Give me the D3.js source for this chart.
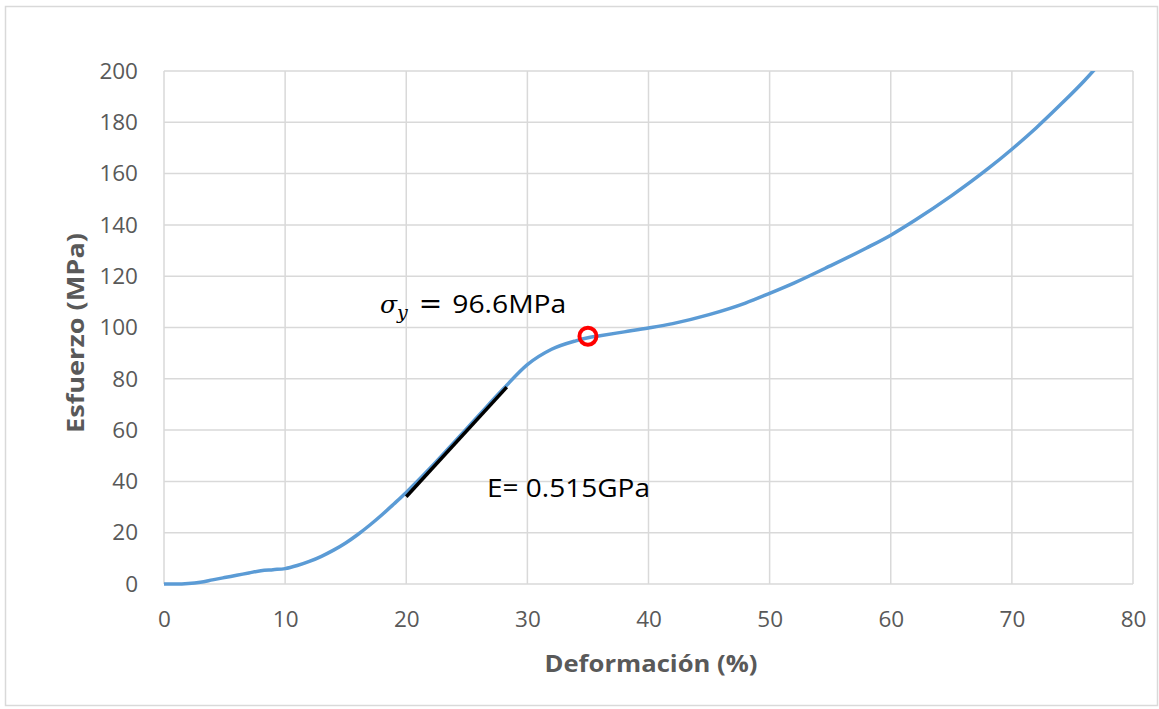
<!DOCTYPE html>
<html>
<head>
<meta charset="utf-8">
<script src="https://cdn.jsdelivr.net/npm/d3@7"></script>
<style>
  html, body { margin: 0; padding: 0; background: #fff; }
  svg { display: block; }
</style>
</head>
<body>
<svg id="chart" width="1159" height="709"></svg>
<script>
// Stress–strain curve (strain in %, stress in MPa)
const strain = [0, 1, 2, 3, 4, 5, 6, 7, 8, 9, 10, 11, 12, 13, 14, 15, 16, 17, 18, 19, 20,
  22, 24, 26, 28, 30, 32, 34, 35, 36, 38, 40, 42, 45, 48, 50, 52, 55, 58, 60, 62, 65, 68,
  70, 72, 74, 76, 77];
const stress = [0, 0, 0.2, 0.7, 1.6, 2.5, 3.4, 4.3, 5.2, 5.6, 6, 7.2, 8.8, 10.8, 13.2, 16,
  19.3, 23, 27, 31.3, 35.7, 45.3, 55.5, 65.8, 76, 85.5, 91.5, 94.8, 96, 96.8, 98.3, 99.8,
  101.5, 105, 109.5, 113.3, 117.3, 124, 131, 136, 141.8, 151.3, 161.8, 169.5, 177.8, 186.8,
  196.3, 201.5];

// Elastic segment used for the modulus
const modulusGPa = 0.515;            // E in GPa -> 5.15 MPa per % strain
const elasticStart = [20, 34];       // [strain %, stress MPa]
const elasticEndStrain = 28.3;

// Yield point
const yieldStrain = 35;
const yieldStress = 96.6;

const xTicks = [0, 10, 20, 30, 40, 50, 60, 70, 80];
const yTicks = [0, 20, 40, 60, 80, 100, 120, 140, 160, 180, 200];

const xTitle = "Deformación (%)";
const yTitle = "Esfuerzo (MPa)";
const modulusLabel = "E= 0.515GPa";

const svg = d3.select("#chart");
const W = 1159, H = 709;
const m = { left: 164, top: 71, right: W - 1133, bottom: H - 584 };
const iw = W - m.left - m.right, ih = H - m.top - m.bottom;

// Outer chart frame
svg.append("rect")
  .attr("x", 5.5).attr("y", 6.5).attr("width", 1152).attr("height", 699)
  .attr("fill", "#fff").attr("stroke", "#d9d9d9").attr("stroke-width", 1.5);

const x = d3.scaleLinear().domain([0, 80]).range([m.left, m.left + iw]);
const y = d3.scaleLinear().domain([0, 200]).range([m.top + ih, m.top]);

const grid = svg.append("g");
grid.selectAll("line.v").data(xTicks).join("line")
  .attr("x1", d => x(d)).attr("x2", d => x(d))
  .attr("y1", y(0)).attr("y2", y(200))
  .attr("stroke", "#d9d9d9").attr("stroke-width", 1.5);
grid.selectAll("line.h").data(yTicks).join("line")
  .attr("x1", x(0)).attr("x2", x(80))
  .attr("y1", d => y(d)).attr("y2", d => y(d))
  .attr("stroke", "#d9d9d9").attr("stroke-width", 1.5);

// Axes (labels only; gridlines drawn above)
const xAxis = svg.append("g")
  .attr("transform", `translate(0,${y(0)})`)
  .call(d3.axisBottom(x).tickValues(xTicks).tickSize(0).tickPadding(27));
const yAxis = svg.append("g")
  .attr("transform", `translate(${x(0)},0)`)
  .call(d3.axisLeft(y).tickValues(yTicks).tickSize(0).tickPadding(26));
[xAxis, yAxis].forEach(a => {
  a.select(".domain").remove();
  a.selectAll("text")
    .attr("font-family", "'Open Sans', sans-serif")
    .attr("font-size", 22.5)
    .attr("fill", "#595959");
});

svg.append("defs").append("clipPath").attr("id", "plotClip")
  .append("rect").attr("x", x(0)).attr("y", y(200)).attr("width", iw).attr("height", ih + 4);

const pts = strain.map((s, i) => [s, stress[i]]);
const line = d3.line().x(d => x(d[0])).y(d => y(d[1])).curve(d3.curveMonotoneX);

svg.append("path")
  .datum(pts)
  .attr("clip-path", "url(#plotClip)")
  .attr("d", line)
  .attr("fill", "none")
  .attr("stroke", "#5b9bd5")
  .attr("stroke-width", 3.5)
  .attr("stroke-linejoin", "round");

// Elastic modulus tangent
const slope = modulusGPa * 10; // MPa per % strain
const elasticEnd = [elasticEndStrain, elasticStart[1] + slope * (elasticEndStrain - elasticStart[0])];
svg.append("line")
  .attr("x1", x(elasticStart[0])).attr("y1", y(elasticStart[1]))
  .attr("x2", x(elasticEnd[0])).attr("y2", y(elasticEnd[1]))
  .attr("stroke", "#000").attr("stroke-width", 3.5);

// Yield point marker
svg.append("circle")
  .attr("cx", x(yieldStrain)).attr("cy", y(yieldStress))
  .attr("r", 8.5)
  .attr("fill", "none").attr("stroke", "#ff0000").attr("stroke-width", 4);

// Annotations
const sig = svg.append("text")
  .attr("x", 380).attr("y", 313)
  .attr("font-size", 26).attr("fill", "#000");
sig.append("tspan").attr("font-family", "'DejaVu Serif', serif").attr("font-style", "italic").attr("font-size", 25).text("σ");
sig.append("tspan").attr("font-family", "'DejaVu Serif', serif").attr("font-style", "italic").attr("font-size", 19).attr("dy", 6).text("y");
sig.append("tspan").attr("font-family", "'DejaVu Sans', sans-serif").attr("font-size", 28).attr("dy", -6).attr("dx", 11).text("=");
sig.append("tspan").attr("font-family", "'Open Sans', sans-serif").attr("dx", 10)
  .attr("textLength", 114).attr("lengthAdjust", "spacingAndGlyphs")
  .text(`${yieldStress}MPa`);

svg.append("text")
  .attr("x", 487).attr("y", 497)
  .attr("font-family", "'Open Sans', sans-serif")
  .attr("font-size", 25.5).attr("fill", "#000")
  .attr("textLength", 163).attr("lengthAdjust", "spacingAndGlyphs")
  .text(modulusLabel);

// Axis titles
svg.append("text")
  .attr("x", 651).attr("y", 672)
  .attr("text-anchor", "middle")
  .attr("font-family", "'Open Sans', sans-serif")
  .attr("font-weight", "bold")
  .attr("font-size", 24)
  .attr("fill", "#595959")
  .attr("textLength", 213).attr("lengthAdjust", "spacingAndGlyphs")
  .text(xTitle);

svg.append("text")
  .attr("transform", "translate(84,333) rotate(-90)")
  .attr("text-anchor", "middle")
  .attr("font-family", "'Open Sans', sans-serif")
  .attr("font-weight", "bold")
  .attr("font-size", 24)
  .attr("fill", "#595959")
  .attr("textLength", 200).attr("lengthAdjust", "spacingAndGlyphs")
  .text(yTitle);
</script>
</body>
</html>
